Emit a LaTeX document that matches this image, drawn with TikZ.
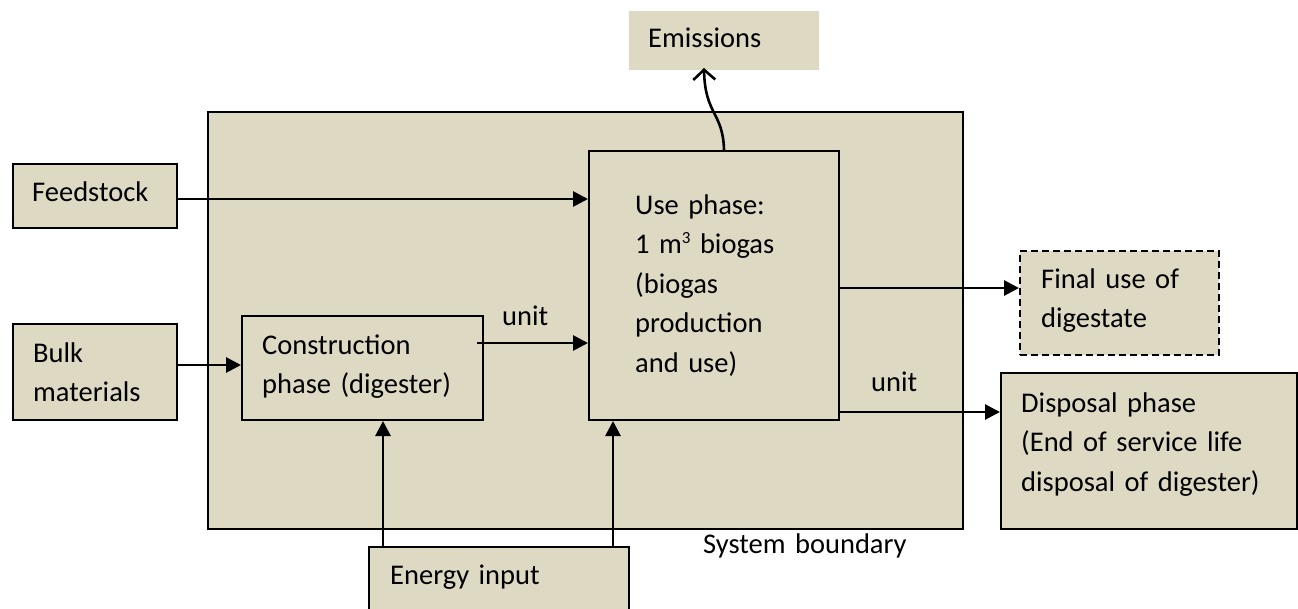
\documentclass[tikz,border=0pt]{standalone}
\usepackage{fontspec}
\setmainfont{Carlito}
\usetikzlibrary{arrows.meta}
\definecolor{boxfill}{HTML}{DDD9C3}
\begin{document}
\begin{tikzpicture}[x=1pt,y=-1pt,
  box/.style={draw=black, line width=2pt, fill=boxfill, inner sep=0pt, anchor=north west},
  txt/.style={anchor=base west, inner sep=0pt, align=left, text width=#1,
    font=\fontsize{28.5}{39.5}\selectfont},
  txt/.default=300pt,
  flow/.style={line width=2.8pt, -{Triangle[length=15pt,width=15pt]}},
  openflow/.style={line width=2.6pt, -{Straight Barb[length=10pt,width=22pt]}}]
\useasboundingbox (0,0) rectangle (1298,608);
\clip (0,0) rectangle (1298,608);
% boxes
\node[box, minimum width=755pt, minimum height=417pt] (sys) at (207,111) {};
\node[box, draw=none, minimum width=190pt, minimum height=59pt] (emis) at (628,10) {};
\node[box, minimum width=164pt, minimum height=64pt] (feed) at (12,163) {};
\node[box, minimum width=164pt, minimum height=96pt] (bulk) at (12,323) {};
\node[box, minimum width=241pt, minimum height=104pt] (cons) at (241,315) {};
\node[box, minimum width=250pt, minimum height=269pt] (use) at (588,150) {};
\node[box, dashed, dash pattern=on 7pt off 4pt, minimum width=199pt, minimum height=104pt] (final) at (1019,250) {};
\node[box, minimum width=296pt, minimum height=156pt] (disp) at (1000,372) {};
\node[box, minimum width=260pt, minimum height=90pt] (energy) at (368,546) {};
% texts
\node[txt] (temis) at (648,47) {Emissions};
\node[txt] (tfeed) at (32,201) {Feedstock};
\node[txt] (tbulk) at (33,362) {Bulk\\materials};
\node[txt] (tcons) at (262,354) {Construction\\phase (digester)};
\node[txt] (tuse) at (635,214) {Use phase:\\1 m\raisebox{10pt}{\fontsize{17}{17}\selectfont 3} biogas\\(biogas\\production\\and use)};
\node[txt] (tfinal) at (1041,288) {Final use of\\digestate};
\node[txt] (tdisp) at (1021,412) {Disposal phase\\(End of service life\\disposal of digester)};
\node[txt] (tenergy) at (390,584) {Energy input};
\node[txt] (tunit1) at (502,325) {unit};
\node[txt] (tunit2) at (871,391) {unit};
\node[txt] (tsys) at (703,553) {System boundary};
% connectors
\draw[flow] ([yshift=-3pt]feed.east) -- ([yshift=-3pt]feed.east -| use.west);
\draw[flow] ([yshift=7pt]bulk.east) -- ([yshift=7pt]bulk.east -| cons.west);
\draw[flow] ([xshift=-7pt,yshift=25pt]cons.east) -- ([yshift=25pt]cons.east -| use.west);
\draw[flow] ([yshift=-2.5pt]use.east) -- ([yshift=-2.5pt]use.east -| final.west);
\draw[flow] ([yshift=9pt]use.south east) -- ([yshift=9pt]use.south east -| disp.west);
\draw[flow] (energy.north -| 383,0) -- (cons.south -| 383,0);
\draw[flow] (energy.north -| 613,0) -- (use.south -| 613,0);
\draw[openflow] (use.north -| 724,0) .. controls (723,112) and (705,115) .. ([yshift=3pt]emis.south -| 704,0);
\end{tikzpicture}
\end{document}
